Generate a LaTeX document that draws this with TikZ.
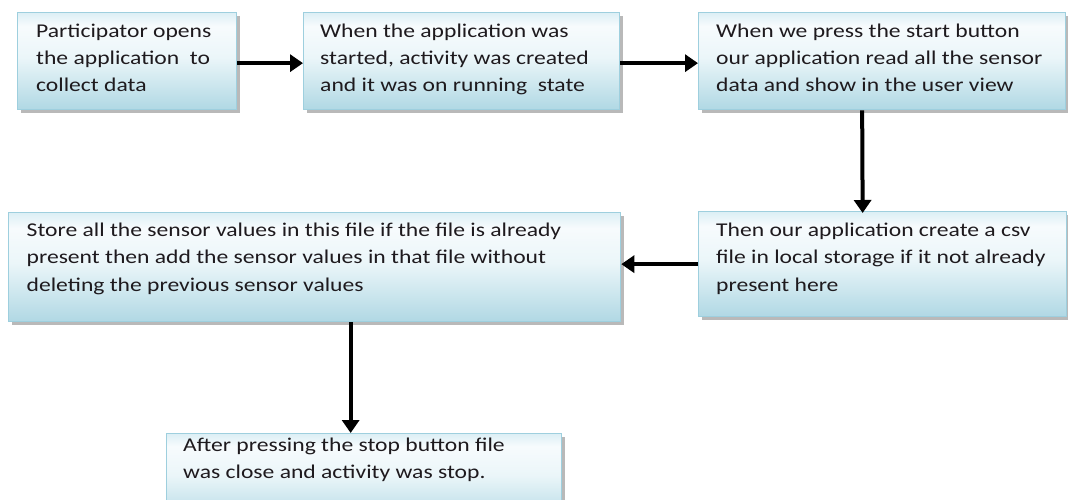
\documentclass[tikz,border=0pt]{standalone}
\usepackage{fontspec}
\setmainfont{Carlito}
\usetikzlibrary{shadows,arrows.meta}
\definecolor{bxbot}{HTML}{B0D8E4}
\definecolor{bxmid}{HTML}{EBF6F9}
\definecolor{bxwhite}{HTML}{F7FBFD}
\definecolor{bxtop}{HTML}{DCEFF5}
\definecolor{bxline}{HTML}{9ECFDE}
\definecolor{txt}{HTML}{1E1A1E}
\pgfdeclareverticalshading{boxshade}{100bp}{color(0bp)=(bxbot); color(25bp)=(bxbot); color(52bp)=(bxmid); color(68bp)=(bxwhite); color(75bp)=(bxtop); color(100bp)=(bxtop)}
\tikzset{
  flowbox/.style={rectangle, draw=bxline, line width=1.3pt, shading=boxshade,
    anchor=north west, inner sep=0pt,
    drop shadow={shadow xshift=3pt, shadow yshift=-3pt, fill=black!50, opacity=0.55}},
  flowtext/.style={anchor=base west, inner sep=0pt, text=txt,
    font=\fontsize{19.5}{27.2}\selectfont},
  flowarrow/.style={draw=black, line width=4pt, -{Triangle[length=13pt,width=17pt]}},
}
\newcommand{\boxlines}[1]{\scalebox{1.21}[1]{\parbox[t]{600pt}{\raggedright #1}}}
\begin{document}
\begin{tikzpicture}[x=1pt,y=-1pt]
\useasboundingbox (0,0) rectangle (1068,499);
\clip (0,0) rectangle (1068,499);
\fill[white] (0,0) rectangle (1068,499);

% boxes
\node[flowbox, minimum width=219pt, minimum height=97pt] (b1) at (17,12) {};
\node[flowbox, minimum width=316pt, minimum height=97pt] (b2) at (303,12) {};
\node[flowbox, minimum width=367pt, minimum height=97pt] (b3) at (698,12) {};
\node[flowbox, minimum width=368pt, minimum height=105pt] (b4) at (698,211) {};
\node[flowbox, minimum width=612pt, minimum height=109pt] (b5) at (8,212) {};
\node[flowbox, minimum width=395pt, minimum height=90pt] (b6) at (166,433) {};

% texts
\node[flowtext] (t1) at (36,37.5) {\boxlines{Participator opens\\the application\ \ to\\collect data}};
\node[flowtext] (t2) at (320,37.5) {\boxlines{When the application was\\started, activity was created\\and it was on running\ \ state}};
\node[flowtext] (t3) at (716,37.5) {\boxlines{When we press the start button\\our application read all the sensor\\data and show in the user view}};
\node[flowtext] (t4) at (716,236.7) {\boxlines{Then our application create a csv\\file in local storage if it not already\\present here}};
\node[flowtext] (t5) at (26.5,236.7) {\boxlines{Store all the sensor values in this file if the file is already\\present then add the sensor values in that file without\\deleting the previous sensor values}};
\node[flowtext] (t6) at (183,451.5) {\boxlines{After pressing the stop button file\\was close and activity was stop.}};

% connectors
\draw[flowarrow] ([yshift=-2pt]b1.east) -- ([yshift=-2pt]b2.west);
\draw[flowarrow] ([yshift=-2pt]b2.east) -- ([yshift=-2pt]b3.west);
\draw[flowarrow] ([xshift=-20pt]b3.south) -- ([xshift=-20pt,yshift=-2pt]b4.north);
\draw[flowarrow] (b4.west) -- (b4.west -| b5.east);
\draw[flowarrow] ([xshift=36pt]b5.south) -- ([xshift=36pt]b5.south |- b6.north);
\end{tikzpicture}
\end{document}
